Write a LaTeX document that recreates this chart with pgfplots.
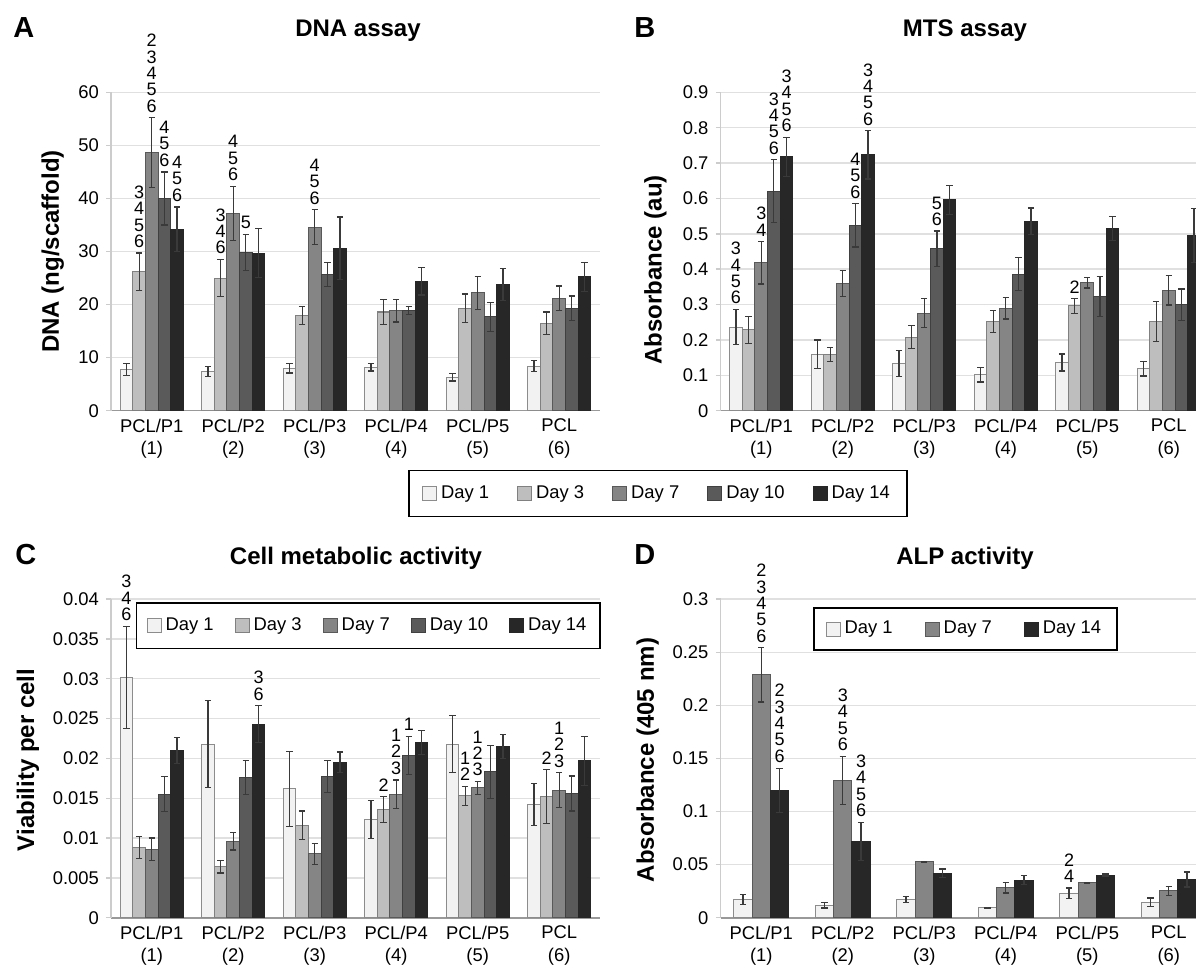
\documentclass[border=0pt]{standalone}
\usepackage{fontspec}
\setmainfont{Liberation Sans}
\usepackage{pgfplots}
\usepackage{pgfplotstable}
\pgfplotsset{compat=1.18}

\definecolor{c1}{HTML}{F2F2F2}
\definecolor{c3}{HTML}{BEBEBE}
\definecolor{c7}{HTML}{858585}
\definecolor{c10}{HTML}{5A5A5A}
\definecolor{c14}{HTML}{272727}
\definecolor{eline}{HTML}{3A3A3A}

\newcommand\tickfont{\fontsize{9.2}{11.2}\selectfont}
\newcommand\labfont{\fontsize{12}{14}\selectfont\bfseries}
\newcommand\annfont{\fontsize{9}{8.2}\selectfont}

% DNA assay (ng/scaffold), mean and error per day
\pgfplotstableread{
x d1  e1  d3   e3  d7   e7  d10  e10 d14  e14
1 7.8 1.1 26.2 3.5 48.6 6.6 40.0 5.0 34.2 4.2
2 7.4 0.9 25.0 3.5 37.2 5.1 29.8 3.4 29.7 4.6
3 8.0 0.9 18.0 1.7 34.6 3.3 25.7 2.3 30.6 5.9
4 8.2 0.7 18.6 2.4 18.8 2.1 18.9 0.7 24.4 2.6
5 6.3 0.7 19.3 2.7 22.2 3.1 17.7 2.7 23.8 3.0
6 8.4 1.0 16.5 2.1 21.2 2.3 19.3 2.3 25.2 2.8
}\tabA

% MTS assay (au)
\pgfplotstableread{
x d1    e1    d3    e3    d7    e7    d10   e10   d14   e14
1 0.236 0.050 0.229 0.038 0.418 0.060 0.621 0.088 0.718 0.055
2 0.160 0.040 0.158 0.020 0.360 0.037 0.524 0.061 0.723 0.068
3 0.133 0.037 0.208 0.032 0.276 0.041 0.458 0.050 0.596 0.041
4 0.101 0.020 0.252 0.032 0.289 0.030 0.386 0.047 0.535 0.038
5 0.136 0.024 0.296 0.021 0.362 0.015 0.323 0.057 0.514 0.034
6 0.119 0.021 0.252 0.056 0.341 0.042 0.300 0.044 0.496 0.076
}\tabB

% viability per cell
\pgfplotstableread{
x d1     e1     d3     e3     d7     e7     d10    e10    d14    e14
1 0.0302 0.0064 0.0088 0.0014 0.0086 0.0014 0.0155 0.0022 0.0210 0.0016
2 0.0218 0.0055 0.0064 0.0008 0.0096 0.0011 0.0176 0.0021 0.0243 0.0023
3 0.0162 0.0047 0.0116 0.0018 0.0080 0.0013 0.0177 0.0020 0.0195 0.0013
4 0.0123 0.0024 0.0136 0.0016 0.0155 0.0018 0.0204 0.0024 0.0220 0.0015
5 0.0218 0.0036 0.0153 0.0012 0.0163 0.0008 0.0183 0.0033 0.0215 0.0015
6 0.0142 0.0026 0.0152 0.0034 0.0160 0.0022 0.0156 0.0022 0.0197 0.0031
}\tabC

% ALP activity (405 nm)
\pgfplotstableread{
x d1     e1     d7     e7     d14    e14
1 0.0173 0.0045 0.2286 0.0255 0.1198 0.0210
2 0.0116 0.0025 0.1290 0.0225 0.0717 0.0180
3 0.0173 0.0030 0.0525 0.0005 0.0418 0.0040
4 0.0094 0.0005 0.0283 0.0050 0.0355 0.0040
5 0.0230 0.0050 0.0330 0.0005 0.0402 0.0010
6 0.0145 0.0040 0.0252 0.0040 0.0360 0.0070
}\tabD

\pgfplotsset{
  panel/.style={
    scale only axis, ybar=0pt, bar width=0.155,
    xmin=0.5, xmax=6.5, ymin=0,
    xtick={1,...,6},
    xticklabels={{PCL/P1\\(1)},{PCL/P2\\(2)},{PCL/P3\\(3)},{PCL/P4\\(4)},{PCL/P5\\(5)},{PCL\\(6)}},
    x tick label style={align=center, font=\tickfont, yshift=2pt},
    y tick label style={font=\tickfont},
    axis x line*=bottom, axis y line*=left,
    x axis line style={draw=black!40, line width=0.8pt},
    y axis line style={draw=black!20, line width=0.8pt},
    ymajorgrids, grid style={draw=black!12, line width=0.7pt},
    xtick style={draw=none}, ytick style={draw=black!20, line width=0.7pt},
    tick align=outside, major tick length=2.5pt,
    scaled y ticks=false,
    /pgf/number format/assume math mode=true,
    yticklabel style={/pgf/number format/fixed, /pgf/number format/precision=3},
    clip mode=individual,
    ylabel style={font=\labfont, anchor=center},
    legend style={font=\fontsize{9.2}{10}\selectfont, draw=black, line width=0.9pt,
      legend columns=-1, anchor=center, inner xsep=6.5pt, inner ysep=5.5pt,
      /tikz/every even column/.append style={column sep=12pt}},
  },
  eb/.style={error bars/y dir=both, error bars/y explicit,
    error bars/error bar style={line width=0.6pt, draw=eline},
    error bars/error mark=-,
    error bars/error mark options={rotate=90, line width=0.6pt, draw=eline, mark size=1.6pt}},
  sq/.style={legend image code/.code={\draw[##1, line width=0.5pt] (0pt,-3.5pt) rectangle (7pt,3.5pt);}},
  s1/.style={fill=c1, draw=black!45, line width=0.5pt, eb, sq},
  s3/.style={fill=c3, draw=black!50, line width=0.5pt, eb, sq},
  s7/.style={fill=c7, draw=black!65, line width=0.5pt, eb, sq},
  s10/.style={fill=c10, draw=black!75, line width=0.5pt, eb, sq},
  s14/.style={fill=c14, draw=black!85, line width=0.5pt, eb, sq},
}
\tikzset{ann/.style={anchor=south, inner sep=0pt, yshift=2.5pt, align=center, font=\annfont}}

\begin{document}
\begin{tikzpicture}
\useasboundingbox (0,0) rectangle (598pt,483pt);

% ---------- A ----------
\begin{axis}[panel, at={(55.5pt,277.65pt)}, anchor=south west,
  width=244.5pt, height=159.2pt, ymax=60, ytick={0,10,...,60},
  ylabel={DNA (ng/scaffold)}, ylabel style={at={(axis description cs:-0.119,0.5)}},
  legend style={at={(axis description cs:1.1186,-0.26)}}]
\addplot[s1] table[x=x, y=d1, y error=e1] {\tabA};
\addplot[s3] table[x=x, y=d3, y error=e3] {\tabA};
\addplot[s7] table[x=x, y=d7, y error=e7] {\tabA};
\addplot[s10] table[x=x, y=d10, y error=e10] {\tabA};
\addplot[s14] table[x=x, y=d14, y error=e14] {\tabA};
\legend{Day 1, Day 3, Day 7, Day 10, Day 14}
\node[ann] at (axis cs:0.845,29.7) {3\\4\\5\\6};
\node[ann] at (axis cs:1,55.2) {2\\3\\4\\5\\6};
\node[ann] at (axis cs:1.155,45.0) {4\\5\\6};
\node[ann] at (axis cs:1.31,38.4) {4\\5\\6};
\node[ann] at (axis cs:1.845,28.5) {3\\4\\6};
\node[ann] at (axis cs:2,42.3) {4\\5\\6};
\node[ann] at (axis cs:2.155,33.2) {5};
\node[ann] at (axis cs:3,37.9) {4\\5\\6};
\end{axis}

% ---------- B ----------
\begin{axis}[panel, at={(360.25pt,277.65pt)}, anchor=south west,
  width=237.75pt, height=159.2pt, xmax=6.334, ymax=0.9, ytick={0,0.1,...,0.9},
  ylabel={Absorbance (au)}, ylabel style={at={(axis description cs:-0.137,0.442)}}]
\addplot[s1] table[x=x, y=d1, y error=e1] {\tabB};
\addplot[s3] table[x=x, y=d3, y error=e3] {\tabB};
\addplot[s7] table[x=x, y=d7, y error=e7] {\tabB};
\addplot[s10] table[x=x, y=d10, y error=e10] {\tabB};
\addplot[s14] table[x=x, y=d14, y error=e14] {\tabB};
\node[ann] at (axis cs:0.69,0.286) {3\\4\\5\\6};
\node[ann] at (axis cs:1,0.478) {3\\4};
\node[ann] at (axis cs:1.155,0.709) {3\\4\\5\\6};
\node[ann] at (axis cs:1.31,0.773) {3\\4\\5\\6};
\node[ann] at (axis cs:2.155,0.585) {4\\5\\6};
\node[ann] at (axis cs:2.31,0.791) {3\\4\\5\\6};
\node[ann] at (axis cs:3.155,0.508) {5\\6};
\node[ann] at (axis cs:4.845,0.317) {2};
\end{axis}

% ---------- C ----------
\begin{axis}[panel, at={(55.5pt,24.15pt)}, anchor=south west,
  width=244.5pt, height=159.3pt, ymax=0.04, ytick={0,0.005,...,0.04},
  ylabel={Viability per cell}, ylabel style={at={(axis description cs:-0.170,0.495)}},
  legend style={at={(axis description cs:0.5266,0.917)}, inner xsep=5pt, inner ysep=5.5pt,
    /tikz/every even column/.append style={column sep=8.5pt}}]
\addplot[s1] table[x=x, y=d1, y error=e1] {\tabC};
\addplot[s3] table[x=x, y=d3, y error=e3] {\tabC};
\addplot[s7] table[x=x, y=d7, y error=e7] {\tabC};
\addplot[s10] table[x=x, y=d10, y error=e10] {\tabC};
\addplot[s14] table[x=x, y=d14, y error=e14] {\tabC};
\legend{Day 1, Day 3, Day 7, Day 10, Day 14}
\node[ann] at (axis cs:0.69,0.0366) {3\\4\\6};
\node[ann] at (axis cs:2.31,0.0266) {3\\6};
\node[ann] at (axis cs:3.845,0.0152) {2};
\node[ann] at (axis cs:4,0.0173) {1\\2\\3};
\node[ann] at (axis cs:4.155,0.0228) {1};
\node[ann] at (axis cs:4.845,0.0165) {1\\2};
\node[ann] at (axis cs:5,0.0171) {1\\2\\3};
\node[ann] at (axis cs:5.845,0.0186) {2};
\node[ann] at (axis cs:6,0.0182) {1\\2\\3};
\end{axis}

% ---------- D ----------
\begin{axis}[panel, at={(360.25pt,24.15pt)}, anchor=south west,
  width=237.75pt, height=159.3pt, xmax=6.334, bar width=0.224, ymax=0.3, ytick={0,0.05,...,0.3},
  ylabel={Absorbance (405 nm)}, ylabel style={at={(axis description cs:-0.153,0.495)}},
  legend style={at={(axis description cs:0.515,0.906)}, inner xsep=6pt, inner ysep=4.5pt,
    /tikz/every even column/.append style={column sep=14pt}}]
\addplot[s1] table[x=x, y=d1, y error=e1] {\tabD};
\addplot[s7] table[x=x, y=d7, y error=e7] {\tabD};
\addplot[s14] table[x=x, y=d14, y error=e14] {\tabD};
\legend{Day 1, Day 7, Day 14}
\node[ann] at (axis cs:1,0.254) {2\\3\\4\\5\\6};
\node[ann] at (axis cs:1.224,0.141) {2\\3\\4\\5\\6};
\node[ann] at (axis cs:2,0.152) {3\\4\\5\\6};
\node[ann] at (axis cs:2.224,0.090) {3\\4\\5\\6};
\node[ann] at (axis cs:4.776,0.028) {2\\4};
\end{axis}

% titles and panel letters
\node[anchor=base, font=\labfont] at (179pt,464.5pt) {DNA assay};
\node[anchor=base, font=\labfont] at (482.5pt,464.5pt) {MTS assay};
\node[anchor=base, font=\labfont] at (178pt,200.5pt) {Cell metabolic activity};
\node[anchor=base, font=\labfont] at (482.5pt,200.5pt) {ALP activity};
\node[anchor=base west, inner sep=0pt, font=\fontsize{14.5}{16}\selectfont\bfseries] at (6.5pt,464pt) {A};
\node[anchor=base west, inner sep=0pt, font=\fontsize{14.5}{16}\selectfont\bfseries] at (317pt,464pt) {B};
\node[anchor=base west, inner sep=0pt, font=\fontsize{14.5}{16}\selectfont\bfseries] at (7.5pt,200.5pt) {C};
\node[anchor=base west, inner sep=0pt, font=\fontsize{14.5}{16}\selectfont\bfseries] at (317pt,200.5pt) {D};
\end{tikzpicture}
\end{document}
